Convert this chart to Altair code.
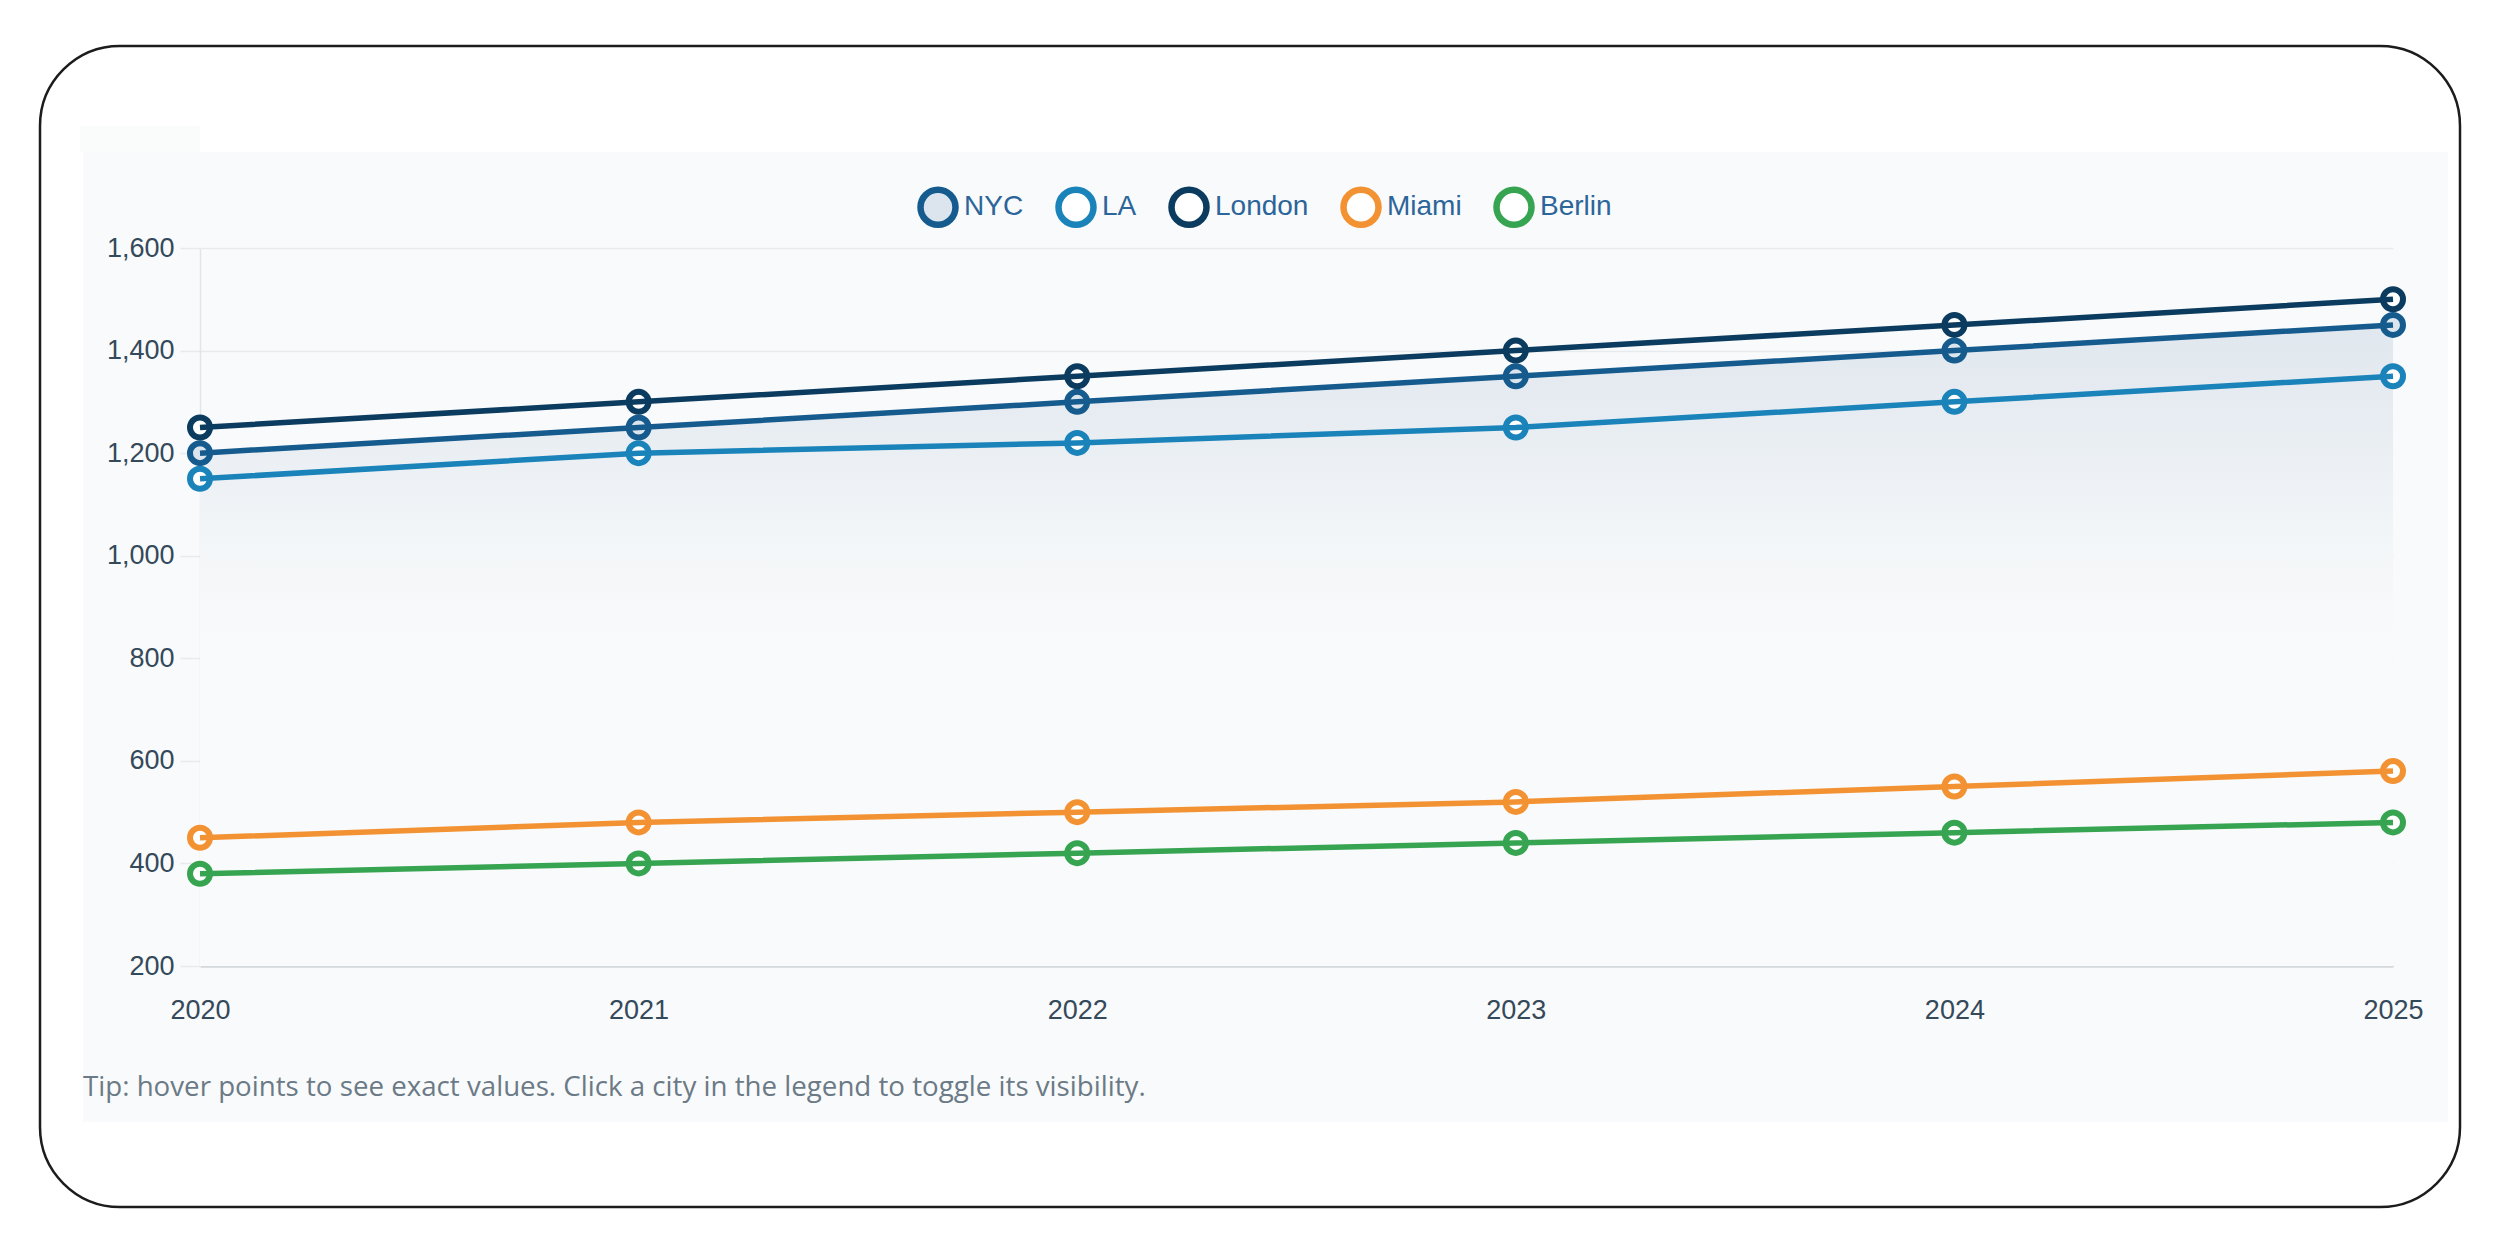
import altair as alt
import pandas as pd

years = ["2020", "2021", "2022", "2023", "2024", "2025"]
cities = ["NYC", "LA", "London", "Miami", "Berlin"]
colors = ["#155b8e", "#1a83ba", "#0b3b5f", "#f39232", "#36a451"]
fills = ["#dce5ee", "#ffffff", "#ffffff", "#ffffff", "#ffffff"]
nyc = [1200, 1250, 1300, 1350, 1400, 1450]
la = [1150, 1200, 1220, 1250, 1300, 1350]
london = [1250, 1300, 1350, 1400, 1450, 1500]
miami = [450, 480, 500, 520, 550, 580]
berlin = [380, 400, 420, 440, 460, 480]
tip_text = "Tip: hover points to see exact values. Click a city in the legend to toggle its visibility."

series = {"NYC": nyc, "LA": la, "London": london, "Miami": miami, "Berlin": berlin}
rows = []
for c in cities:
    for y, v in zip(years, series[c]):
        rows.append({"city": c, "year": y, "value": v})
df = pd.DataFrame(rows)
nyc_df = pd.DataFrame({"year": years, "value": nyc, "base": [200] * len(years)})

W, H = 2193, 718
one = pd.DataFrame({"k": [0]})

x_enc = alt.X("year:O", scale=alt.Scale(type="point", padding=0),
              axis=alt.Axis(title=None, labelAngle=0, ticks=False, grid=False,
                            labelFont="Liberation Sans", labelFontSize=27,
                            labelColor="#34495a", labelPadding=31,
                            domainColor="#d5d9dd", domainWidth=2.5))
y_scale = alt.Scale(domain=[200, 1600], nice=False, zero=False)
y_axis = alt.Axis(title=None, values=[200, 400, 600, 800, 1000, 1200, 1400, 1600],
                  format=",d", labelFont="Liberation Sans", labelFontSize=27,
                  labelColor="#34495a", labelPadding=6, tickSize=20,
                  tickColor="#e8ebee", tickWidth=1.5, gridColor="#e8ebee",
                  gridWidth=1.5, domainColor="#e2e5e8", domainWidth=1.5)

color_scale = alt.Scale(domain=cities, range=colors)
fill_scale = alt.Scale(domain=cities, range=fills)
legend = alt.Legend(
    title=None, orient="none", legendX=717, legendY=-62, direction="horizontal",
    symbolType="circle", symbolSize=1225, symbolStrokeWidth=6.5,
    labelFont="Liberation Sans", labelFontSize=28,
    labelColor="#2b659a", labelOffset=5, columnPadding=21,
)

# decorative layers (page frame / panel)
def strip(x, x2, y, y2, fill="#ffffff", opacity=1.0):
    return alt.Chart(one).mark_rect(fill=fill, opacity=opacity, strokeWidth=0).encode(
        x=alt.value(x), x2=alt.value(x2), y=alt.value(y), y2=alt.value(y2))

strips = [
    strip(-192, 2283, -240, -96),
    strip(-192, 2283, 874, 968),
    strip(-192, -117, -240, 968),
    strip(2248, 2283, -240, 968),
    strip(-120, 0, -122, -96, fill="#f8f9fa", opacity=0.7),
]
frame = alt.Chart(one).mark_rect(fillOpacity=0, stroke="#1c1c1c", strokeWidth=2.5,
                                 cornerRadius=80).encode(
    x=alt.value(-160), x2=alt.value(2260), y=alt.value(-202), y2=alt.value(959))

area = alt.Chart(nyc_df).mark_area(
    color=alt.Gradient(gradient="linear",
                       stops=[alt.GradientStop(color="#e0e7ee", offset=0),
                              alt.GradientStop(color="#e9eef3", offset=0.18),
                              alt.GradientStop(color="#f3f6f8", offset=0.34),
                              alt.GradientStop(color="#f9fafb", offset=0.5)],
                       x1=1, x2=1, y1=0, y2=1)
).encode(x=x_enc, y=alt.Y("value:Q", scale=y_scale, axis=y_axis), y2="base:Q")

points = alt.Chart(df).mark_point(shape="circle", filled=False,
                                  fillOpacity=1, opacity=1, size=400, strokeWidth=6).encode(
    x=x_enc, y=alt.Y("value:Q", scale=y_scale, axis=y_axis),
    color=alt.Color("city:N", scale=color_scale, legend=legend, sort=cities),
    fill=alt.Fill("city:N", scale=fill_scale, legend=legend, sort=cities))

lines = alt.Chart(df).mark_line(strokeWidth=5.5).encode(
    x=x_enc, y=alt.Y("value:Q", scale=y_scale, axis=y_axis),
    color=alt.Color("city:N", scale=color_scale, legend=legend, sort=cities),
    detail="city:N")

tip = alt.Chart(one).mark_text(align="left", baseline="middle", font="Open Sans",
                               fontSize=27.7, color="#6b7a86").encode(
    x=alt.value(-117), y=alt.value(840), text=alt.value(tip_text))

chart = alt.layer(*strips, frame, area, points, lines, tip).properties(
    width=W, height=H,
    autosize=alt.AutoSizeParams(type="none"),
    padding={"left": 192, "top": 240, "right": 90, "bottom": 250},
    background="#f9fafb",
).configure_view(stroke=None)

chart.save("out.html", embed_options={"renderer": "svg", "actions": False})
